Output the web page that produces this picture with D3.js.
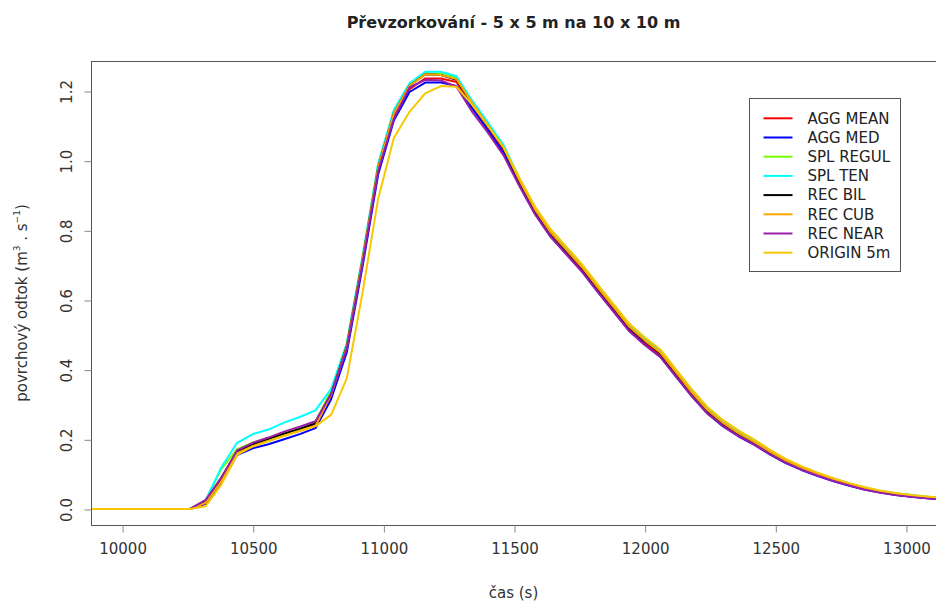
<!DOCTYPE html>
<html>
<head>
<meta charset="utf-8">
<script src="https://cdn.jsdelivr.net/npm/d3@7"></script>
<style>
    body { margin: 0; background: #fff; }
    text { font-family: 'DejaVu Sans', sans-serif; }
</style>
</head>
<body>
<div id="chart"></div>
<script>
// time grid of the hydrograph (s)
const times = d3.range(9840, 13141, 60);

const seriesNames = ['AGG MEAN', 'AGG MED', 'SPL REGUL', 'SPL TEN', 'REC BIL', 'REC CUB', 'REC NEAR', 'ORIGIN 5m'];
const seriesColors = ['#ff0000', '#0000ff', '#7cfc00', '#00ffff', '#000000', '#ffa500', '#9a1fa8', '#f7c800'];

const aggMean = [0, 0, 0, 0, 0, 0, 0, 0, 0.020, 0.085, 0.162, 0.184, 0.198, 0.213, 0.227, 0.241, 0.325, 0.462, 0.710, 0.975,
    1.125, 1.205, 1.236, 1.236, 1.226, 1.155, 1.093, 1.028, 0.936, 0.853, 0.787, 0.737, 0.687, 0.629, 0.573, 0.517,
    0.477, 0.442, 0.385, 0.328, 0.278, 0.241, 0.211, 0.187, 0.159, 0.134, 0.114, 0.097, 0.082, 0.069, 0.057, 0.048,
    0.041, 0.036, 0.032, 0.028];
const aggMed = [0, 0, 0, 0, 0, 0, 0, 0, 0.015, 0.075, 0.155, 0.174, 0.186, 0.200, 0.215, 0.232, 0.315, 0.450, 0.695, 0.960,
    1.115, 1.197, 1.224, 1.224, 1.214, 1.150, 1.088, 1.022, 0.930, 0.848, 0.782, 0.732, 0.682, 0.624, 0.568, 0.512,
    0.472, 0.437, 0.380, 0.324, 0.274, 0.237, 0.208, 0.184, 0.156, 0.132, 0.112, 0.095, 0.080, 0.067, 0.056, 0.047,
    0.040, 0.035, 0.031, 0.027];
const splRegul = [0, 0, 0, 0, 0, 0, 0, 0, 0.025, 0.115, 0.172, 0.190, 0.204, 0.219, 0.233, 0.250, 0.340, 0.475, 0.720, 0.990,
    1.140, 1.220, 1.250, 1.250, 1.238, 1.170, 1.106, 1.041, 0.948, 0.865, 0.799, 0.749, 0.699, 0.641, 0.585, 0.529,
    0.489, 0.454, 0.397, 0.340, 0.289, 0.251, 0.221, 0.196, 0.167, 0.141, 0.121, 0.103, 0.087, 0.074, 0.062, 0.052,
    0.045, 0.040, 0.035, 0.031];
const splTen = [0, 0, 0, 0, 0, 0, 0, 0, 0.025, 0.120, 0.190, 0.215, 0.228, 0.248, 0.264, 0.283, 0.345, 0.475, 0.725, 0.990,
    1.145, 1.222, 1.255, 1.255, 1.242, 1.172, 1.110, 1.045, 0.950, 0.866, 0.800, 0.750, 0.700, 0.642, 0.586, 0.530,
    0.490, 0.455, 0.398, 0.341, 0.290, 0.252, 0.222, 0.196, 0.168, 0.142, 0.121, 0.103, 0.088, 0.074, 0.062, 0.052,
    0.045, 0.040, 0.035, 0.031];
const recBil = [0, 0, 0, 0, 0, 0, 0, 0, 0.020, 0.090, 0.165, 0.186, 0.200, 0.216, 0.230, 0.246, 0.330, 0.468, 0.715, 0.980,
    1.135, 1.215, 1.248, 1.246, 1.232, 1.162, 1.100, 1.035, 0.942, 0.858, 0.792, 0.742, 0.692, 0.634, 0.578, 0.522,
    0.482, 0.447, 0.390, 0.333, 0.282, 0.245, 0.215, 0.190, 0.162, 0.137, 0.117, 0.099, 0.084, 0.071, 0.059, 0.050,
    0.043, 0.038, 0.034, 0.030];
const recCub = [0, 0, 0, 0, 0, 0, 0, 0, 0.018, 0.080, 0.160, 0.180, 0.195, 0.210, 0.224, 0.238, 0.328, 0.465, 0.715, 0.980,
    1.135, 1.215, 1.248, 1.246, 1.234, 1.165, 1.102, 1.037, 0.944, 0.860, 0.794, 0.744, 0.694, 0.636, 0.580, 0.524,
    0.484, 0.449, 0.392, 0.335, 0.284, 0.247, 0.217, 0.192, 0.164, 0.139, 0.118, 0.100, 0.085, 0.072, 0.060, 0.051,
    0.044, 0.039, 0.034, 0.030];
const recNear = [0, 0, 0, 0, 0, 0, 0, 0, 0.026, 0.090, 0.168, 0.190, 0.205, 0.222, 0.236, 0.252, 0.330, 0.460, 0.705, 0.970,
    1.120, 1.210, 1.232, 1.230, 1.212, 1.140, 1.080, 1.015, 0.928, 0.846, 0.781, 0.731, 0.681, 0.623, 0.567, 0.511,
    0.471, 0.436, 0.380, 0.324, 0.274, 0.238, 0.209, 0.185, 0.157, 0.133, 0.113, 0.096, 0.081, 0.068, 0.056, 0.047,
    0.040, 0.035, 0.031, 0.027];
const origin5m = [0, 0, 0, 0, 0, 0, 0, 0, 0.008, 0.070, 0.155, 0.180, 0.195, 0.210, 0.225, 0.238, 0.270, 0.375, 0.620, 0.890,
    1.065, 1.140, 1.193, 1.214, 1.212, 1.160, 1.100, 1.038, 0.952, 0.868, 0.803, 0.753, 0.703, 0.645, 0.589, 0.533,
    0.493, 0.458, 0.401, 0.344, 0.293, 0.255, 0.225, 0.199, 0.170, 0.144, 0.123, 0.105, 0.089, 0.075, 0.063, 0.053,
    0.046, 0.040, 0.036, 0.032];

const seriesValues = [aggMean, aggMed, splRegul, splTen, recBil, recCub, recNear, origin5m];

const xTicks = [10000, 10500, 11000, 11500, 12000, 12500, 13000];
const yTicks = [0, 0.2, 0.4, 0.6, 0.8, 1.0, 1.2];

let width = 936,
    height = 603,
    margin = {left: 91, top: 61, right: 0, bottom: 78},
    plotWidth = width - margin.left - margin.right,
    plotHeight = height - margin.top - margin.bottom,
    axisColor = '#555',
    textColor = '#333';

let svg = d3.select('#chart').append('svg')
    .attr('width', width)
    .attr('height', height);

const x = d3.scaleLinear()
    .domain([9881, 13115])
    .range([0, plotWidth]);

const y = d3.scaleLinear()
    .domain([-0.046, 1.286])
    .range([plotHeight, 0]);

let g = svg.append('g')
    .attr('transform', `translate(${margin.left}, ${margin.top})`);

g.append('clipPath')
    .attr('id', 'clip')
    .append('rect')
    .attr('width', plotWidth)
    .attr('height', plotHeight);

// lines
const line = d3.line()
    .x((d, i) => x(times[i]))
    .y(d => y(d));

g.append('g')
    .attr('clip-path', 'url(#clip)')
    .selectAll('path')
    .data(seriesValues)
    .join('path')
    .attr('d', d => line(d))
    .attr('fill', 'none')
    .attr('stroke', (d, i) => seriesColors[i])
    .attr('stroke-width', 2)
    .attr('stroke-linejoin', 'round');

// plot box (right side runs off the picture)
g.append('rect')
    .attr('x', 0.5)
    .attr('y', 0.5)
    .attr('width', plotWidth)
    .attr('height', plotHeight)
    .attr('fill', 'none')
    .attr('stroke', axisColor)
    .attr('stroke-width', 1);

// x axis
const xAxis = g.append('g')
    .attr('transform', `translate(0.5, ${plotHeight + 0.5})`)
    .call(d3.axisBottom(x).tickValues(xTicks).tickFormat(d3.format('d')).tickSize(7).tickPadding(11));
xAxis.select('.domain').remove();
xAxis.selectAll('line').attr('stroke', '#888');
xAxis.selectAll('text')
    .attr('font-size', '15px')
    .attr('fill', textColor);

// y axis with rotated labels
const yAxis = g.append('g')
    .attr('transform', 'translate(0.5, 0.5)')
    .call(d3.axisLeft(y).tickValues(yTicks).tickFormat(d3.format('.1f')).tickSize(7));
yAxis.select('.domain').remove();
yAxis.selectAll('line').attr('stroke', '#888');
yAxis.selectAll('text')
    .attr('x', null)
    .attr('dy', null)
    .attr('transform', 'translate(-20, 0) rotate(-90)')
    .attr('text-anchor', 'middle')
    .attr('font-size', '15px')
    .attr('fill', textColor);

// title and axis titles
svg.append('text')
    .attr('x', margin.left + plotWidth / 2)
    .attr('y', 28)
    .attr('text-anchor', 'middle')
    .attr('font-size', '16px')
    .attr('font-weight', 'bold')
    .attr('fill', '#222')
    .text('Převzorkování - 5 x 5 m na 10 x 10 m');

svg.append('text')
    .attr('x', margin.left + plotWidth / 2)
    .attr('y', 598)
    .attr('text-anchor', 'middle')
    .attr('font-size', '15px')
    .attr('fill', textColor)
    .text('čas (s)');

const yLabel = svg.append('text')
    .attr('transform', `translate(27, ${margin.top + plotHeight / 2 + 10}) rotate(-90)`)
    .attr('text-anchor', 'middle')
    .attr('font-size', '15px')
    .attr('fill', textColor);
yLabel.append('tspan').text('povrchový odtok (m');
yLabel.append('tspan').attr('font-size', '9px').attr('dy', -7).text('3');
yLabel.append('tspan').attr('dy', 7).text(' . s');
yLabel.append('tspan').attr('font-size', '9px').attr('dy', -7).text('−1');
yLabel.append('tspan').attr('dy', 7).text(')');

// legend
const legend = svg.append('g')
    .attr('transform', 'translate(749.5, 98.5)');

legend.append('rect')
    .attr('width', 151)
    .attr('height', 173)
    .attr('fill', '#fff')
    .attr('stroke', axisColor);

const item = legend.selectAll('g.item')
    .data(seriesNames)
    .join('g')
    .attr('class', 'item')
    .attr('transform', (d, i) => `translate(0, ${19.8 + i * 19.2})`);

item.append('line')
    .attr('x1', 14)
    .attr('x2', 43)
    .attr('stroke', (d, i) => seriesColors[i])
    .attr('stroke-width', 2);

item.append('text')
    .attr('x', 58)
    .attr('dy', '0.35em')
    .attr('font-size', '15px')
    .attr('fill', '#222')
    .text(d => d);
</script>
</body>
</html>
